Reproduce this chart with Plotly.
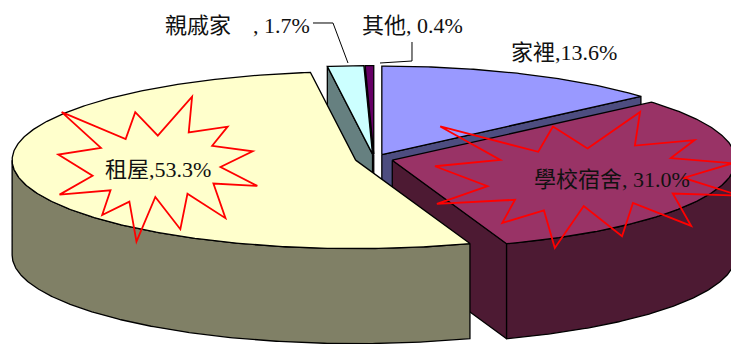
import numpy as np
import plotly.graph_objects as go

# Where students live (share of respondents, %)
categories = ["家裡", "學校宿舍", "租屋", "親戚家", "其他"]
shares = [13.6, 31.0, 53.3, 1.7, 0.4]
label_seps = [",", ", ", ",", "\u3000, ", ", "]

top_colors = ["#9999FF", "#993366", "#FFFFCC", "#CCFFFF", "#660066"]
side_colors = ["#4D4D80", "#4D1A33", "#808066", "#668080", "#330033"]

# ---- canvas / 3-D pie geometry (radius = 1 unit) ----
W, H = 731, 344
CX, CY = 374.0, 159.0          # pie centre in pixels
RX = 343.5                     # pixels per radius unit
TILT = 88.5 / RX               # squash of the top ellipse
DEPTH = 95.0 / RX              # slab thickness
EXPLODE = 0.055                # every slice pulled out a little
DRAW_ORDER = [0, 4, 3, 1, 2]   # back to front

FONT = "Liberation Serif, Noto Sans CJK TC, serif"


def rim(t, off, drop=0.0):
    return off[0] + np.sin(t), off[1] + TILT * np.cos(t) - drop


def arc(t1, t2, off, drop=0.0):
    n = max(int(np.degrees(t2 - t1)) * 2, 2)
    ts = np.linspace(t1, t2, n)
    return rim(ts, off, drop)


fig = go.Figure()


def poly(xs, ys, fill):
    xs = list(xs) + [xs[0]]
    ys = list(ys) + [ys[0]]
    fig.add_trace(go.Scatter(x=xs, y=ys, mode="lines", fill="toself",
                             fillcolor=fill, line=dict(color="black", width=1.3),
                             hoverinfo="skip", showlegend=False))


total = sum(shares)
bounds = []
acc = 0.0
for v in shares:
    t1 = np.radians(360.0 * acc / total)
    acc += v
    t2 = np.radians(360.0 * acc / total)
    bounds.append((t1, t2))

for i in DRAW_ORDER:
    t1, t2 = bounds[i]
    mid = 0.5 * (t1 + t2)
    off = (EXPLODE * np.sin(mid), EXPLODE * TILT * np.cos(mid))

    # radial cut faces that turn towards the viewer
    for t, normal in ((t1, t1 - np.pi / 2), (t2, t2 + np.pi / 2)):
        if np.cos(normal) < -1e-6:
            rx, ry = rim(t, off)
            poly([off[0], rx, rx, off[0]],
                 [off[1], ry, ry - DEPTH, off[1] - DEPTH], side_colors[i])

    # curved outer wall on the front half
    a, b = max(t1, np.pi / 2), min(t2, 1.5 * np.pi)
    if b > a:
        ux, uy = arc(a, b, off)
        lx, ly = arc(a, b, off, DEPTH)
        poly(list(ux) + list(lx[::-1]), list(uy) + list(ly[::-1]), side_colors[i])

    # top face
    ux, uy = arc(t1, t2, off)
    poly([off[0]] + list(ux), [off[1]] + list(uy), top_colors[i])

# ---- labels ----
labels = [f"{c}{s}{v:.1f}%" for c, s, v in zip(categories, label_seps, shares)]
label_pos = [  # pixel position, anchor
    (564, 52, "center"),
    (612, 179, "center"),
    (158, 169, "center"),
    (163, 25, "left"),
    (360, 25, "left"),
]
annotations = []
for text, (px, py, anchor) in zip(labels, label_pos):
    annotations.append(dict(x=px / W, y=1 - py / H, xref="paper", yref="paper",
                            text=text, showarrow=False, xanchor=anchor,
                            yanchor="middle",
                            font=dict(family=FONT, size=22, color="#111111")))

# ---- callout decorations ----
# preset "explosion 1" outline, 21600 x 21600 design grid
SEAL = [(10800, 5800), (14522, 0), (14155, 5325), (18380, 4457), (16702, 7315),
        (21097, 8137), (17607, 10475), (21600, 13290), (16837, 12942),
        (18145, 18095), (14020, 14457), (13247, 19737), (10532, 14935),
        (8485, 21600), (7715, 15627), (4762, 17617), (5667, 13937),
        (135, 14587), (3722, 11775), (0, 8615), (4627, 7617), (370, 2295),
        (7312, 6320), (8352, 2295)]


def seal_path(x0, y0, w, h):
    pts = [(x0 + w * px / 21600, y0 + h * py / 21600) for px, py in SEAL]
    return "M " + " L ".join(f"{x / W:.5f},{1 - y / H:.5f}" for x, y in pts) + " Z"


shapes = [
    dict(type="path", xref="paper", yref="paper", path=seal_path(58.3, 96.7, 199, 145),
         line=dict(color="#FF0000", width=1.8)),
    dict(type="path", xref="paper", yref="paper", path=seal_path(435, 112, 305, 136),
         line=dict(color="#FF0000", width=1.8)),
]


def leader(pts):
    return dict(type="path", xref="paper", yref="paper",
                path="M " + " L ".join(f"{x / W:.5f},{1 - y / H:.5f}" for x, y in pts),
                line=dict(color="black", width=1))


shapes.append(leader([(313, 23), (333, 23), (348, 63)]))
shapes.append(leader([(412, 42), (412, 61), (380, 63)]))

fig.update_layout(
    width=W, height=H,
    margin=dict(l=0, r=0, t=0, b=0),
    paper_bgcolor="white", plot_bgcolor="white",
    xaxis=dict(range=[-CX / RX, (W - CX) / RX], visible=False, fixedrange=True),
    yaxis=dict(range=[(CY - H) / RX, CY / RX], visible=False, fixedrange=True),
    annotations=annotations,
    shapes=shapes,
    showlegend=False,
)

fig.write_html("out.html")
